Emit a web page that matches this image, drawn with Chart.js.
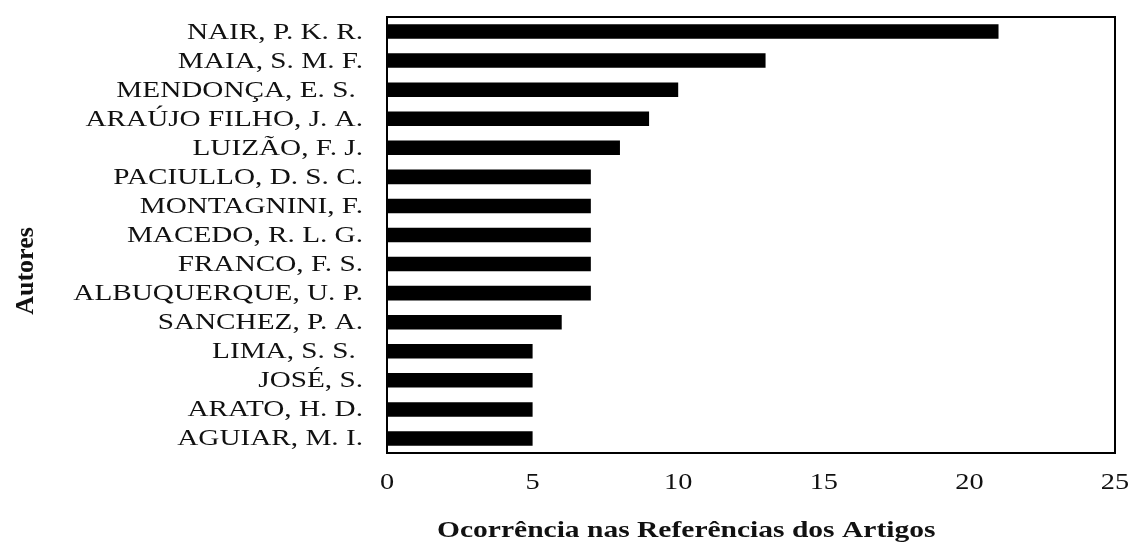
<!DOCTYPE html>
<html>
<head>
<meta charset="utf-8">
<script src="https://cdn.jsdelivr.net/npm/chart.js@4.4.0/dist/chart.umd.min.js"></script>
<style>
  html, body { margin: 0; padding: 0; background: #fff; }
  #wrap { width: 1146px; height: 554px; }
</style>
</head>
<body>
<div id="wrap"><canvas id="autores"></canvas></div>
<script>
// authors and their counts, top to bottom as in the figure
const authors = [
  'NAIR, P. K. R.', 'MAIA, S. M. F.', 'MENDONÇA, E. S. ', 'ARAÚJO FILHO, J. A.',
  'LUIZÃO, F. J.', 'PACIULLO, D. S. C.', 'MONTAGNINI, F.', 'MACEDO, R. L. G.',
  'FRANCO, F. S.', 'ALBUQUERQUE, U. P.', 'SANCHEZ, P. A.', 'LIMA, S. S. ',
  'JOSÉ, S.', 'ARATO, H. D.', 'AGUIAR, M. I.'
];
const occurrences = [21, 13, 10, 9, 8, 7, 7, 7, 7, 7, 6, 5, 5, 5, 5];
const xTicks = [0, 5, 10, 15, 20, 25];
const xTitle = 'Ocorrência nas Referências dos Artigos';
const yTitle = 'Autores';

const serif = "'Liberation Serif', 'DejaVu Serif', serif";

// the original figure was stretched sideways, its text is wider than normal
function wideText(ctx, text, x, y, sx, align) {
  ctx.save();
  ctx.translate(x, y);
  ctx.scale(sx, 1);
  ctx.textAlign = align;
  ctx.fillText(text, 0, 0);
  ctx.restore();
}

// box round the plot area plus all the text, placed off the scales
const frame = {
  id: 'frame',
  afterDraw(chart) {
    const { ctx, chartArea: a } = chart;
    const xs = chart.scales.x, ys = chart.scales.y;
    ctx.save();
    ctx.strokeStyle = '#000';
    ctx.lineWidth = 2;
    ctx.strokeRect(a.left, a.top, a.right - a.left, a.bottom - a.top);

    ctx.fillStyle = '#111';
    ctx.textBaseline = 'alphabetic';
    ctx.font = '23px ' + serif;
    ys.ticks.forEach((t, i) => {
      wideText(ctx, ys.getLabelForValue(t.value), a.left - 24, ys.getPixelForTick(i) + 7, 1.27, 'right');
    });
    ctx.font = '24px ' + serif;
    xs.ticks.forEach(t => {
      wideText(ctx, String(t.value), xs.getPixelForValue(t.value), a.bottom + 36, 1.18, 'center');
    });

    ctx.font = 'bold 24px ' + serif;
    wideText(ctx, xTitle, a.left + 50, a.bottom + 84, 1.23, 'left');

    ctx.save();
    ctx.translate(33, a.top + 254);
    ctx.rotate(-Math.PI / 2);
    ctx.font = 'bold 26px ' + serif;
    ctx.textAlign = 'center';
    ctx.fillText(yTitle, 0, 0);
    ctx.restore();

    ctx.restore();
  }
};

new Chart(document.getElementById('autores').getContext('2d'), {
  type: 'bar',
  data: {
    labels: authors,
    datasets: [{
      data: occurrences,
      backgroundColor: '#000',
      borderWidth: 0,
      barPercentage: 0.5,
      categoryPercentage: 1
    }]
  },
  options: {
    indexAxis: 'y',
    responsive: true,
    maintainAspectRatio: false,
    animation: false,
    layout: { padding: { top: 17, right: 31, bottom: 101, left: 387 } },
    plugins: {
      legend: { display: false },
      tooltip: { enabled: false }
    },
    scales: {
      x: {
        min: 0,
        max: 25,
        afterBuildTicks: axis => { axis.ticks = xTicks.map(v => ({ value: v })); },
        afterFit: scale => { scale.height = 0; },
        grid: { display: false, drawTicks: false },
        border: { display: false },
        ticks: { display: false }
      },
      y: {
        afterFit: scale => { scale.width = 0; },
        grid: { display: false, drawTicks: false },
        border: { display: false },
        ticks: { display: false, autoSkip: false }
      }
    }
  },
  plugins: [frame]
});
</script>
</body>
</html>
